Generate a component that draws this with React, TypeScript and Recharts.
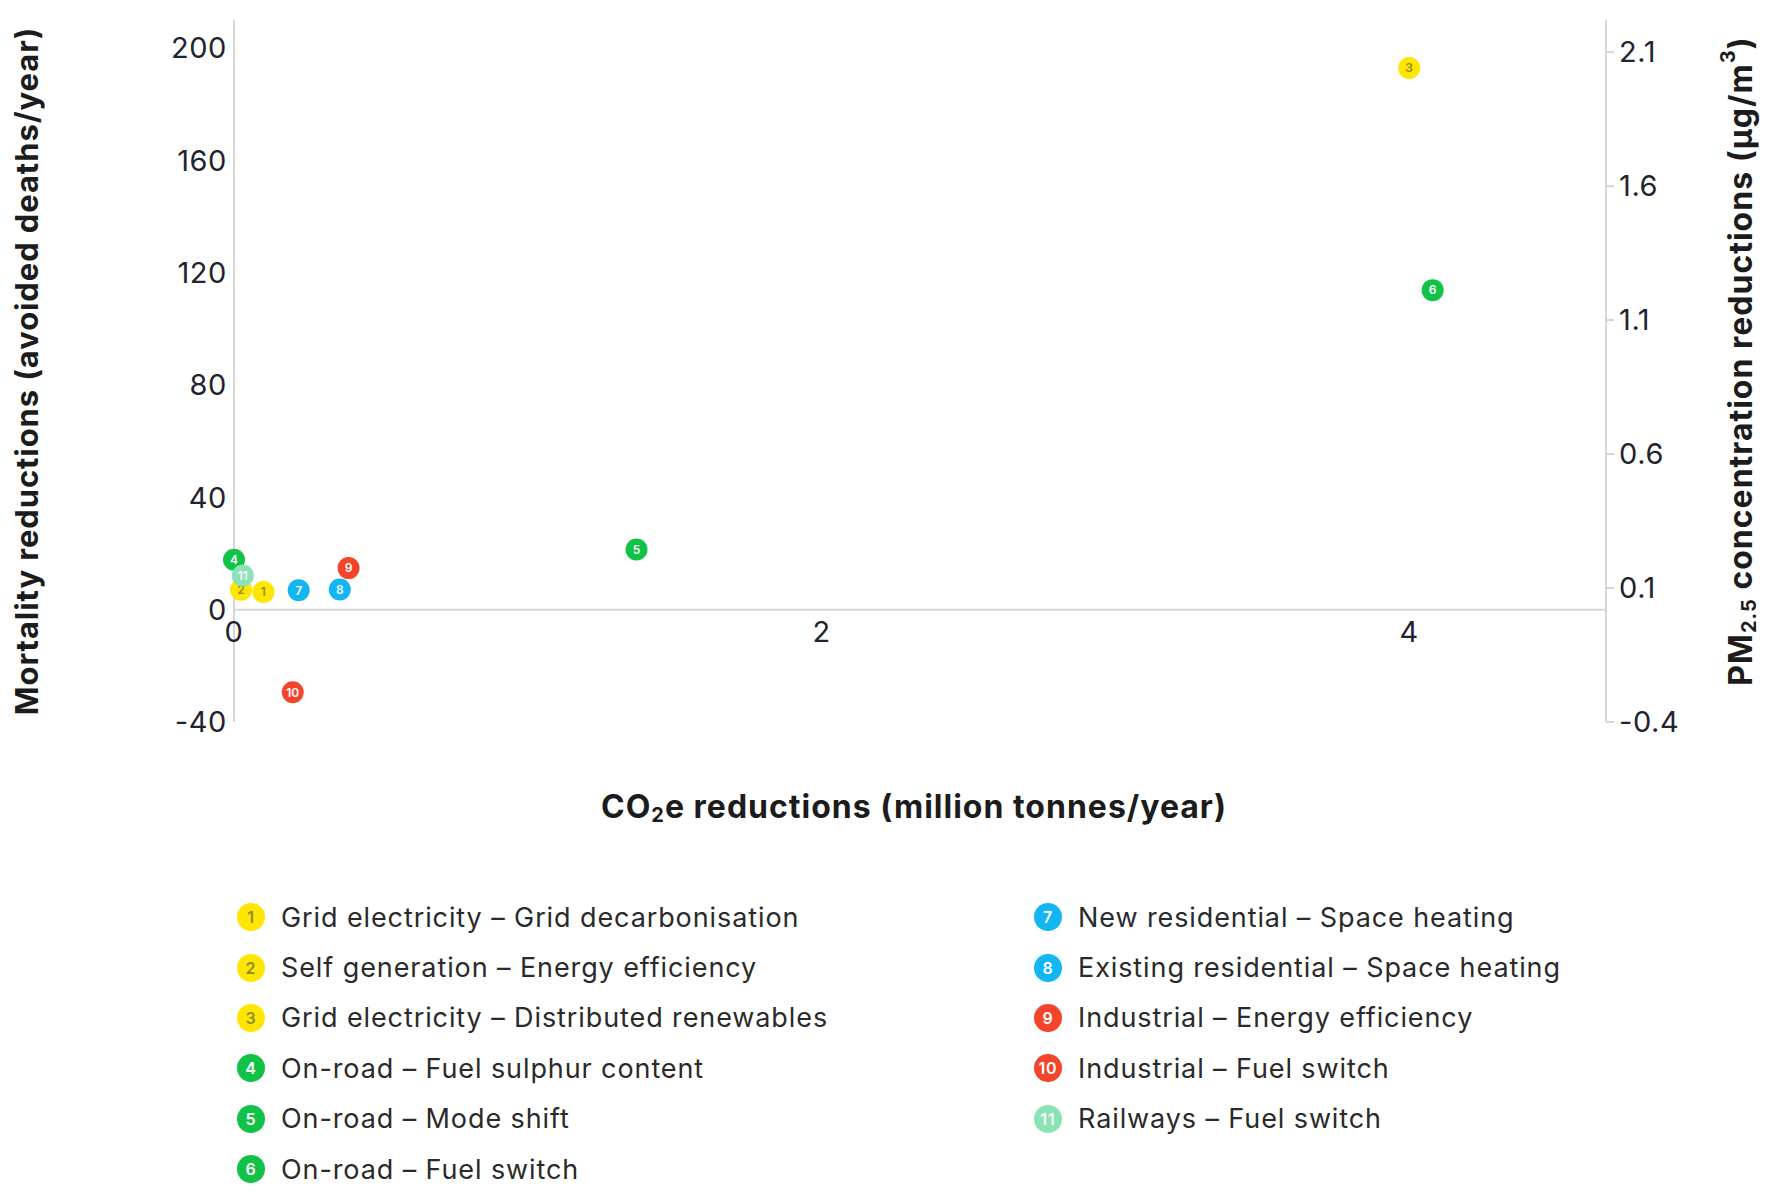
import {
  Label,
  Legend,
  ReferenceDot,
  ReferenceLine,
  Scatter,
  ScatterChart,
  XAxis,
  YAxis,
} from 'recharts';

const measures = [
  'Grid electricity – Grid decarbonisation',
  'Self generation – Energy efficiency',
  'Grid electricity – Distributed renewables',
  'On-road – Fuel sulphur content',
  'On-road – Mode shift',
  'On-road – Fuel switch',
  'New residential – Space heating',
  'Existing residential – Space heating',
  'Industrial – Energy efficiency',
  'Industrial – Fuel switch',
  'Railways – Fuel switch',
];

// CO2e reductions (million tonnes/year)
const co2Reduction = [0.1, 0.024, 4.0, 0.0, 1.37, 4.08, 0.22, 0.36, 0.39, 0.2, 0.03];
// Mortality reductions (avoided deaths/year)
const mortalityReduction = [6.3, 7.1, 192.9, 17.8, 21.4, 113.8, 6.9, 7.2, 14.8, -29.4, 12.2];

const markerColours = [
  '#ffe600', '#ffe600', '#ffe600',
  '#10c246', '#10c246', '#10c246',
  '#12b6f0', '#12b6f0',
  '#f2452c', '#f2452c',
  '#8be2b6',
];
const numberColours = [
  '#8f8a2c', '#8f8a2c', '#8f8a2c',
  '#ffffff', '#ffffff', '#ffffff',
  '#ffffff', '#ffffff',
  '#ffffff', '#ffffff',
  '#ffffff',
];

const mortalityTicks = [-40, 0, 40, 80, 120, 160, 200];
const pmTicks = [-0.4, 0.1, 0.6, 1.1, 1.6, 2.1];
const co2Ticks = [0, 2, 4];

const AXIS = '#d6d6d6';
const TICK_TEXT = '#23232f';
const FONT = 'Inter, "Noto Sans", sans-serif';
const tickStyle = { fill: TICK_TEXT, fontSize: 29, letterSpacing: 0.6 };

function pointShape(n: number, numColour: string) {
  return (props: any) => {
    const { cx, cy, fill } = props;
    if (cx == null || cy == null) return <g />;
    return (
      <g>
        <circle cx={cx} cy={cy} r={11} fill={fill} />
        <text x={cx} y={cy} dy="0.36em" textAnchor="middle" fontSize={12} fontWeight={600} fill={numColour}>
          {n}
        </text>
      </g>
    );
  };
}

function LeftTitle(props: any) {
  const { viewBox } = props;
  const cx = viewBox.x + 18;
  const cy = viewBox.y + viewBox.height / 2;
  return (
    <text
      x={cx}
      y={cy}
      transform={`rotate(-90, ${cx}, ${cy})`}
      textAnchor="middle"
      dominantBaseline="central"
      fontSize={31}
      fontWeight={700}
      letterSpacing={0.9}
      fill="#1c1c1c"
    >
      Mortality reductions (avoided deaths/year)
    </text>
  );
}

function RightTitle(props: any) {
  const { viewBox } = props;
  const cx = viewBox.x + 134;
  const cy = viewBox.y + viewBox.height / 2 - 10;
  return (
    <text
      x={cx}
      y={cy}
      transform={`rotate(-90, ${cx}, ${cy})`}
      textAnchor="middle"
      dominantBaseline="central"
      fontSize={32}
      fontWeight={700}
      letterSpacing={1}
      fill="#1c1c1c"
    >
      PM
      <tspan fontSize={20} dy={9}>2.5</tspan>
      <tspan dy={-9}> concentration reductions (µg/m</tspan>
      <tspan fontSize={20} dy={-12}>3</tspan>
      <tspan dy={12}>)</tspan>
    </text>
  );
}

function BottomTitle(props: any) {
  const { viewBox } = props;
  const cx = viewBox.x + viewBox.width / 2 - 6;
  const cy = viewBox.y + 84;
  return (
    <text
      x={cx}
      y={cy}
      textAnchor="middle"
      dominantBaseline="central"
      fontSize={32}
      fontWeight={700}
      letterSpacing={1}
      fill="#1c1c1c"
    >
      CO
      <tspan fontSize={20} dy={9}>2</tspan>
      <tspan dy={-9}>e reductions (million tonnes/year)</tspan>
    </text>
  );
}

function MeasureLegend() {
  return (
    <div
      style={{
        display: 'grid',
        gridTemplateColumns: '797px 600px',
        gridTemplateRows: 'repeat(6, 50.4px)',
        gridAutoFlow: 'column',
        fontFamily: FONT,
        fontSize: 27,
        letterSpacing: 0.9,
        color: '#2a2a2a',
      }}
    >
      {measures.map((m, i) => (
        <div key={m} style={{ display: 'flex', alignItems: 'center', gap: 16, whiteSpace: 'nowrap' }}>
          <svg width={28} height={28} style={{ flex: 'none' }}>
            <circle cx={14} cy={14} r={14} fill={markerColours[i]} />
            <text x={14} y={14} dy="0.36em" textAnchor="middle" fontSize={16} fontWeight={600} fill={numberColours[i]}>
              {i + 1}
            </text>
          </svg>
          <span>{m}</span>
        </div>
      ))}
    </div>
  );
}

export default function App() {
  return (
    <div style={{ fontFamily: FONT, width: 1764, height: 1185 }}>
      <ScatterChart width={1764} height={1185} margin={{ top: 12, right: 0, bottom: 371, left: 0 }}>
        <XAxis
          type="number"
          dataKey="x"
          domain={[0, 4.67]}
          axisLine={false}
          tickLine={false}
          tick={false}
          height={100}
        >
          <Label content={BottomTitle} />
        </XAxis>
        <YAxis
          yAxisId="left"
          type="number"
          dataKey="y"
          width={226}
          domain={[-40, 210]}
          ticks={mortalityTicks}
          interval={0}
          axisLine={{ stroke: AXIS, strokeWidth: 2 }}
          tickLine={false}
          tickSize={0}
          tickMargin={7}
          tick={tickStyle}
        >
          <Label content={LeftTitle} />
        </YAxis>
        <YAxis
          yAxisId="right"
          orientation="right"
          type="number"
          width={166}
          domain={[-0.4, 2.22]}
          allowDataOverflow
          ticks={pmTicks}
          interval={0}
          axisLine={{ stroke: AXIS, strokeWidth: 2 }}
          tickLine={{ stroke: AXIS, strokeWidth: 2 }}
          tickSize={8}
          tickMargin={5}
          tick={tickStyle}
          tickFormatter={(v: number) => String(v)}
        >
          <Label content={RightTitle} />
        </YAxis>
        <ReferenceLine yAxisId="left" y={0} stroke={AXIS} strokeWidth={2} />
        {co2Ticks.map((t) => (
          <ReferenceDot
            key={t}
            yAxisId="left"
            x={t}
            y={0}
            r={0}
            fill="none"
            stroke="none"
            label={{ value: String(t), position: 'bottom', offset: 12, ...tickStyle }}
          />
        ))}
        {measures.map((m, i) => (
          <Scatter
            key={m}
            name={m}
            yAxisId="left"
            data={[{ x: co2Reduction[i], y: mortalityReduction[i] }]}
            fill={markerColours[i]}
            shape={pointShape(i + 1, numberColours[i])}
            isAnimationActive={false}
          />
        ))}
        <Legend
          layout="horizontal"
          verticalAlign="middle"
          align="center"
          wrapperStyle={{ top: 884, left: 229, width: 1450 }}
          content={() => <MeasureLegend />}
        />
      </ScatterChart>
    </div>
  );
}
